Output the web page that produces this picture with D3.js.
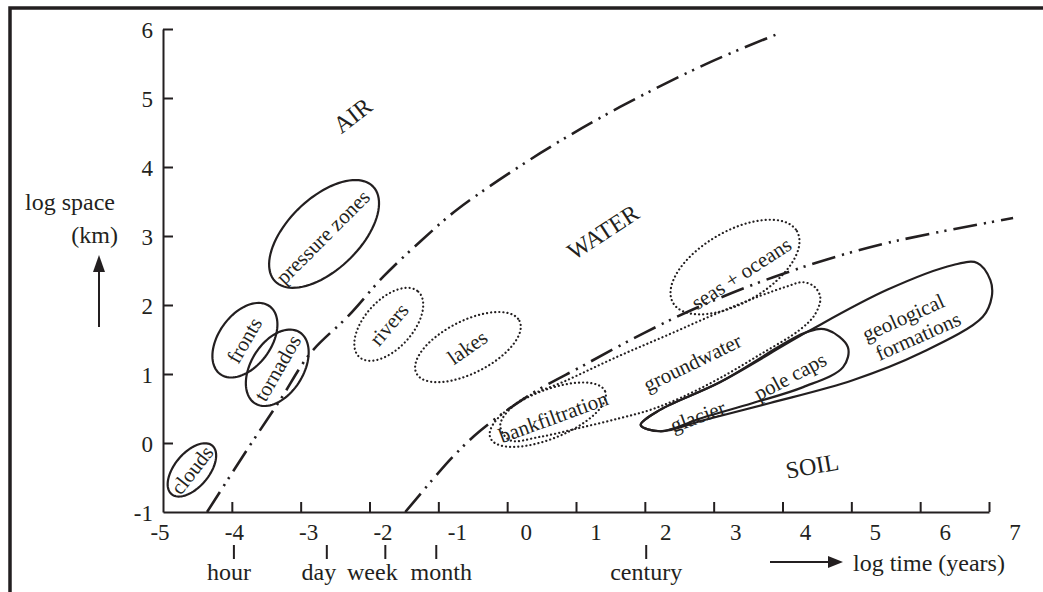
<!DOCTYPE html>
<html><head><meta charset="utf-8">
<script src="https://cdn.jsdelivr.net/npm/d3@7/dist/d3.min.js"></script>
<style>
body{margin:0;background:#fff}
svg{display:block}
text{font-family:"Liberation Serif","DejaVu Serif","Times New Roman",serif;fill:#231f20}
</style>
</head><body>
<svg id="chart" width="1043" height="592" font-family="Liberation Serif, DejaVu Serif, serif"></svg>
<script>
// ---------- data ----------
const xTicks = [-5,-4,-3,-2,-1,0,1,2,3,4,5,6,7];
const yTicks = [-1,0,1,2,3,4,5,6];
const timeMarkNames  = ["hour","day","week","month","century"];
const timeMarkValues = [-3.97,-2.62,-1.77,-1.03,2.02];

const airWaterBoundary = [[-4.36,-1],[-3.78,-0.1],[-3.3,0.62],[-2.86,1.3],[-2.3,1.85],[-1.8,2.41],[-1.25,2.93],[-0.73,3.38],[0.48,4.2],[1.64,4.87],[2.95,5.52],[3.96,5.94]];
const waterSoilBoundary = [[-1.48,-1],[-1.1,-0.55],[-0.79,-0.2],[-0.4,0.17],[0.3,0.68],[1.1,1.12],[2.0,1.6],[2.8,1.98],[4.0,2.45],[5.4,2.87],[7.35,3.26]];

// ellipses: name, centre (log time, log space), semi-axes (log units), tilt (deg), style
const ellipseNames  = ["clouds","fronts","tornados","pressure zones","rivers","lakes","bankfiltration","seas + oceans"];
const ellipseCx     = [-4.58,-3.81,-3.34,-2.66,-1.72,-0.57,0.59,3.31];
const ellipseCy     = [-0.39,1.49,1.09,3.03,1.72,1.39,0.41,2.55];
const ellipseA      = [0.46,0.61,0.61,0.99,0.64,0.84,0.90,1.04];
const ellipseB      = [0.25,0.38,0.38,0.52,0.35,0.38,0.35,0.52];
const ellipseTilt   = [-50,-54,-58,-44,-48,-27,-22,-30];
const ellipseDotted = [false,false,false,false,true,true,true,true];

const groundwaterOutline = [[-0.10,0.26],[0.14,0.58],[0.87,0.91],[1.60,1.25],[2.32,1.56],[3.05,1.88],[3.67,2.13],[4.04,2.26],[4.30,2.33],[4.47,2.26],[4.55,2.10],[4.47,1.86],[4.25,1.64],[3.67,1.28],[3.09,0.94],[2.51,0.65],[2.08,0.48],[1.64,0.36],[1.06,0.22],[0.48,0.09],[0.04,0.04]];
const geologicalOutline  = [[1.94,0.26],[2.22,0.48],[3.09,0.88],[4.36,1.61],[5.52,2.22],[6.48,2.58],[6.83,2.61],[7.02,2.36],[7.04,2.12],[6.91,1.83],[6.00,1.30],[5.02,0.91],[3.82,0.58],[2.85,0.33],[2.22,0.17]];
const poleCapsOutline    = [[1.94,0.26],[2.22,0.48],[3.09,0.88],[4.36,1.61],[4.65,1.64],[4.95,1.39],[4.88,1.10],[4.30,0.81],[3.57,0.58],[2.85,0.37],[2.22,0.17]];

// labels: text, log time, log space, rotation
const regionLabels = [["AIR",-2.25,4.75,-38],["WATER",1.39,3.06,-33],["SOIL",4.43,-0.33,-10]];
const itemLabels = [["clouds",-4.58,-0.39,-52],["fronts",-3.82,1.49,-60],["tornados",-3.34,1.09,-60],
  ["pressure zones",-2.68,2.99,-45],["rivers",-1.72,1.72,-50],["lakes",-0.58,1.39,-35],
  ["bankfiltration",0.67,0.38,-20],["groundwater",2.69,1.17,-26],["seas + oceans",3.40,2.46,-33],
  ["glacier",2.77,0.39,-20],["pole caps",4.11,0.97,-28]];
const geoLabelLines = ["geological","formations"];
const geoLabelPos = [5.82,1.67,-24];

// ---------- drawing ----------
const ink = "#231f20";
const svg = d3.select("#chart");
const x = d3.scaleLinear().domain([-5,7]).range([163,989]);
const y = d3.scaleLinear().domain([-1,6]).range([512,29]);
const unit = x(1)-x(0);

// frame
svg.append("path").attr("d","M10,592V8H1043").attr("fill","none").attr("stroke",ink).attr("stroke-width",3.5);

// axes
const gx = svg.append("g").attr("transform",`translate(0,${y(-1)})`)
  .call(d3.axisBottom(x).tickValues(xTicks.filter(v=>v>-5)).tickSizeInner(-10).tickSizeOuter(0).tickFormat(""));
const gy = svg.append("g").attr("transform",`translate(${x(-5)},0)`)
  .call(d3.axisLeft(y).tickValues(yTicks.filter(v=>v>-1)).tickSizeInner(-10).tickSizeOuter(0).tickFormat(""));
[gx,gy].forEach(g=>{g.selectAll("path,line").attr("stroke",ink).attr("stroke-width",2);});

// x tick labels (printed slightly off the tick marks in the original)
const xLab = d3.scaleLinear().domain([-5,-1,0,7]).range([x(-5)-3,x(-1)+19,x(0)+19,x(7)+26]);
svg.append("g").selectAll("text").data(xTicks).join("text")
  .attr("x",d=>xLab(d)).attr("y",y(-1)+28).attr("text-anchor","middle")
  .attr("font-size",23).text(d=>d);
svg.append("g").selectAll("text").data(yTicks).join("text")
  .attr("x",x(-5)-10).attr("y",d=>y(d)+9).attr("text-anchor","end")
  .attr("font-size",23).text(d=>d);

// time marks (labels are set a little off their marks in the original)
const timeLabelNudge = [-5,-8,-13,5,0];
const tm = svg.append("g");
tm.selectAll("line").data(timeMarkValues).join("line")
  .attr("x1",d=>x(d)).attr("x2",d=>x(d)).attr("y1",y(-1)+33).attr("y2",y(-1)+47)
  .attr("stroke",ink).attr("stroke-width",2);
tm.selectAll("text").data(timeMarkNames).join("text")
  .attr("x",(d,i)=>x(timeMarkValues[i])+timeLabelNudge[i]).attr("y",y(-1)+68).attr("text-anchor","middle")
  .attr("font-size",24).text(d=>d);

// axis titles with arrows
svg.append("line").attr("x1",770).attr("x2",830).attr("y1",562).attr("y2",562).attr("stroke",ink).attr("stroke-width",2);
svg.append("path").attr("d","M828,556L843,562L828,568Z").attr("fill",ink);
svg.append("text").attr("x",853).attr("y",571).attr("font-size",24).text("log time (years)");
svg.append("text").attr("x",25).attr("y",210).attr("font-size",24).text("log space");
svg.append("text").attr("x",118).attr("y",243).attr("text-anchor","end").attr("font-size",24).text("(km)");
svg.append("line").attr("x1",99).attr("x2",99).attr("y1",327).attr("y2",268).attr("stroke",ink).attr("stroke-width",2);
svg.append("path").attr("d","M93,272L99,255L105,272Z").attr("fill",ink);

// boundaries
const line = d3.line().x(d=>x(d[0])).y(d=>y(d[1])).curve(d3.curveCatmullRom.alpha(0.5));
[airWaterBoundary,waterSoilBoundary].forEach(b=>{
  svg.append("path").attr("d",line(b)).attr("fill","none").attr("stroke",ink)
    .attr("stroke-width",2.6).attr("stroke-dasharray","24,7,2.2,6,2.2,7");
});

// ellipses
const ellipsePath = i => {
  const pts = d3.range(0,361,4).map(t=>{
    const r = t*Math.PI/180, th = ellipseTilt[i]*Math.PI/180;
    const ex = ellipseA[i]*unit*Math.cos(r), ey = ellipseB[i]*unit*Math.sin(r);
    return [x(ellipseCx[i]) + ex*Math.cos(th) - ey*Math.sin(th),
            y(ellipseCy[i]) + ex*Math.sin(th) + ey*Math.cos(th)];
  });
  return d3.line()(pts)+"Z";
};
ellipseNames.forEach((n,i)=>{
  svg.append("path").attr("d",ellipsePath(i)).attr("fill","none").attr("stroke",ink)
    .attr("stroke-width",2.2)
    .attr("stroke-dasharray",ellipseDotted[i]?"0.1,4":null)
    .attr("stroke-linecap",ellipseDotted[i]?"round":"butt");
});

// free-form outlines
const closed = d3.line().x(d=>x(d[0])).y(d=>y(d[1])).curve(d3.curveCatmullRomClosed.alpha(0.5));
svg.append("path").attr("d",closed(groundwaterOutline)).attr("fill","none").attr("stroke",ink)
  .attr("stroke-width",2.2).attr("stroke-dasharray","0.1,4").attr("stroke-linecap","round");
[geologicalOutline,poleCapsOutline].forEach(o=>{
  svg.append("path").attr("d",closed(o)).attr("fill","none").attr("stroke",ink).attr("stroke-width",2.2);
});

// labels
regionLabels.forEach(([t,lx,ly,a])=>{
  svg.append("text").attr("transform",`translate(${x(lx)},${y(ly)}) rotate(${a})`)
    .attr("text-anchor","middle").attr("dy","0.35em").attr("font-size",24).text(t);
});
itemLabels.forEach(([t,lx,ly,a])=>{
  svg.append("text").attr("transform",`translate(${x(lx)},${y(ly)}) rotate(${a})`)
    .attr("text-anchor","middle").attr("dy","0.35em").attr("font-size",21).text(t);
});
const geo = svg.append("text").attr("transform",`translate(${x(geoLabelPos[0])},${y(geoLabelPos[1])}) rotate(${geoLabelPos[2]})`)
  .attr("text-anchor","middle").attr("font-size",21);
geoLabelLines.forEach((t,i)=>{
  geo.append("tspan").attr("x",i*6).attr("y",(i-0.5)*23).attr("dy","0.35em").text(t);
});
</script>
</body></html>
